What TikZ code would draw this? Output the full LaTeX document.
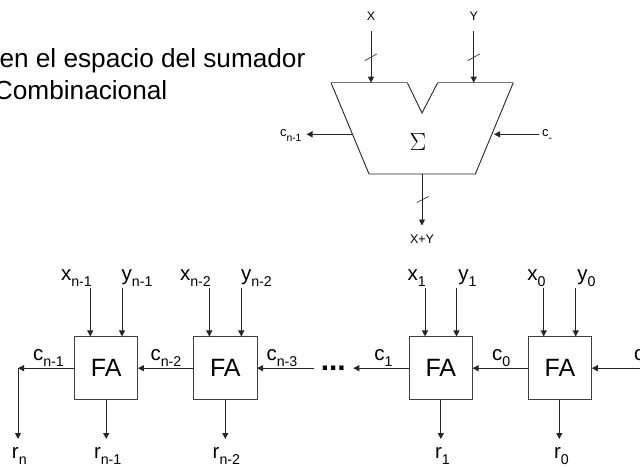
\documentclass[tikz,border=0pt]{standalone}
\usepackage{fontspec}
\setmainfont{Liberation Sans}
\usetikzlibrary{arrows.meta}
\newcommand{\bigsub}[2]{{\fontsize{20.5}{20.5}\selectfont #1\raisebox{-6.5pt}{\fontsize{14.2}{14}\selectfont #2}}}
\newcommand{\smallsub}[2]{{\fontsize{13}{13}\selectfont #1\raisebox{-5.5pt}{\fontsize{10.4}{10}\selectfont #2}}}
\tikzset{
  x=1pt,y=-1pt,
  arr/.style={line width=0.9pt,draw=black!85,-{Stealth[length=6pt,width=6pt,inset=0pt]}},
  wire/.style={line width=0.9pt,draw=black!85},
  tick/.style={line width=0.7pt,draw=black!80},
  fabox/.style={draw=black!75,line width=1pt,minimum width=63.5pt,minimum height=63.5pt,inner sep=0pt,outer sep=0pt,font=\fontsize{25}{25}\selectfont},
  lab/.style={anchor=base west,inner sep=0pt,outer sep=0pt},
  small/.style={inner sep=0pt,outer sep=0pt,font=\fontsize{12.5}{12.5}\selectfont},
}
\begin{document}
\begin{tikzpicture}
\useasboundingbox (0,0) rectangle (640,466);
\clip (0,0) rectangle (640,466);
% title
\node[lab,font=\fontsize{26.2}{26}\selectfont] (t1) at (-0.5,67) {en el espacio del sumador};
\node[lab,font=\fontsize{26.2}{26}\selectfont] (t2) at (-6,99) {Combinacional};
% adder symbol
\coordinate (a) at (331,82.7);
\coordinate (b) at (407.3,82.7);
\coordinate (c) at (422,113);
\coordinate (d) at (437.7,82.7);
\coordinate (e) at (513.3,82.7);
\coordinate (f) at (475.3,174);
\coordinate (g) at (369,174);
\draw[wire] (a) -- (g) -- (f) -- (e);
\draw[wire] (b) -- (c) -- (d);
\draw[line width=1.5pt,draw=black!55] (a) -- (b) (d) -- (e);
\node[inner sep=0pt] (sigma) at (418,141.5) {\fontsize{27}{27}\selectfont$\Sigma$};
\node[small] (X) at (371,16) {X};
\node[small] (Y) at (473.7,16) {Y};
\node[small] (XY) at (422,239.5) {X+Y};
\coordinate (Xs) at (371,31);
\coordinate (Ys) at (473.7,31);
\coordinate (Xe) at (371,82.7);
\coordinate (Ye) at (473.7,82.7);
\draw[arr] (Xs) -- (Xe);
\draw[arr] (Ys) -- (Ye);
\coordinate (Xt1) at (364.7,60.7); \coordinate (Xt2) at (376.7,54);
\coordinate (Yt1) at (467.7,60.7); \coordinate (Yt2) at (479.7,54);
\coordinate (St1) at (416.7,202.5); \coordinate (St2) at (428.7,196.5);
\draw[tick] (Xt1) -- (Xt2);
\draw[tick] (Yt1) -- (Yt2);
\coordinate (So) at (422,225.5);
\coordinate (Ss) at (422,174);
\draw[arr] (Ss) -- (So);
\draw[tick] (St1) -- (St2);
\coordinate (Ls) at (352.5,134.3);
\coordinate (Le) at (306.5,134.3);
\coordinate (Rs) at (539.3,134.3);
\coordinate (Re) at (494,134.3);
\draw[arr] (Ls) -- (Le);
\draw[arr] (Rs) -- (Re);
\node[lab] (cout) at (280,136) {\smallsub{c}{n-1}};
\node[lab] (cin) at (542,136) {\smallsub{c}{-}};
% FA row
\node[fabox] (fa1) at (106.2,368.2) {FA};
\node[fabox] (fa2) at (225.3,368.2) {FA};
\node[fabox] (fa3) at (440.8,368.2) {FA};
\node[fabox] (fa4) at (560,368.2) {FA};
% input labels
\node[lab] (lx1) at (61,280) {\bigsub{x}{n-1}};
\node[lab] (ly1) at (121.7,280) {\bigsub{y}{n-1}};
\node[lab] (lx2) at (180,280) {\bigsub{x}{n-2}};
\node[lab] (ly2) at (241,280) {\bigsub{y}{n-2}};
\node[lab] (lx3) at (407.5,280) {\bigsub{x}{1}};
\node[lab] (ly3) at (458.3,280) {\bigsub{y}{1}};
\node[lab] (lx4) at (527.3,280) {\bigsub{x}{0}};
\node[lab] (ly4) at (577.3,280) {\bigsub{y}{0}};
% input wires
\foreach \n/\xx/\b in {p1/90.3/fa1,q1/122/fa1,p2/209.3/fa2,q2/241.3/fa2,p3/425/fa3,q3/456.5/fa3,p4/543.7/fa4,q4/575.7/fa4}{
  \coordinate (\n) at (\xx,288);
  \draw[arr] (\n) -- (\n |- \b.north);
}
% output wires and labels
\coordinate (e1) at (106.2,439);
\coordinate (e2) at (225.3,439);
\coordinate (e3) at (440.8,439);
\coordinate (e4) at (559.3,439);
\draw[arr] (e1 |- fa1.south) -- (e1);
\draw[arr] (e2 |- fa2.south) -- (e2);
\draw[arr] (e3 |- fa3.south) -- (e3);
\draw[arr] (e4 |- fa4.south) -- (e4);
\node[lab] (r0) at (12,458) {\bigsub{r}{n}};
\node[lab] (r1) at (94,458) {\bigsub{r}{n-1}};
\node[lab] (r2) at (212.7,458) {\bigsub{r}{n-2}};
\node[lab] (r3) at (435,458) {\bigsub{r}{1}};
\node[lab] (r4) at (554,458) {\bigsub{r}{0}};
% carry wires
\coordinate (corner) at (18,368.2);
\coordinate (rn) at (18,439);
\draw[arr] (fa1.west) -- (corner);
\draw[arr] (corner) -- (rn);
\draw[arr] (fa2.west) -- (fa1.east);
\coordinate (c3s) at (314,368.2);
\draw[arr] (c3s) -- (fa2.east);
\coordinate (c1e) at (353.3,368.2);
\draw[arr] (fa3.west) -- (c1e);
\draw[arr] (fa4.west) -- (fa3.east);
\coordinate (cins) at (641,368.2);
\draw[arr] (cins) -- (fa4.east);
\node[lab] (lc1) at (33,360) {\bigsub{c}{n-1}};
\node[lab] (lc2) at (150.5,360) {\bigsub{c}{n-2}};
\node[lab] (lc3) at (266.5,360) {\bigsub{c}{n-3}};
\node[lab] (lc4) at (374.3,360) {\bigsub{c}{1}};
\node[lab] (lc5) at (492,360) {\bigsub{c}{0}};
\node[lab] (lc6) at (634,360) {\bigsub{c}{}};
\node[lab,font=\fontsize{30}{30}\selectfont\bfseries] (dots) at (320.8,370) {...};
\end{tikzpicture}
\end{document}
